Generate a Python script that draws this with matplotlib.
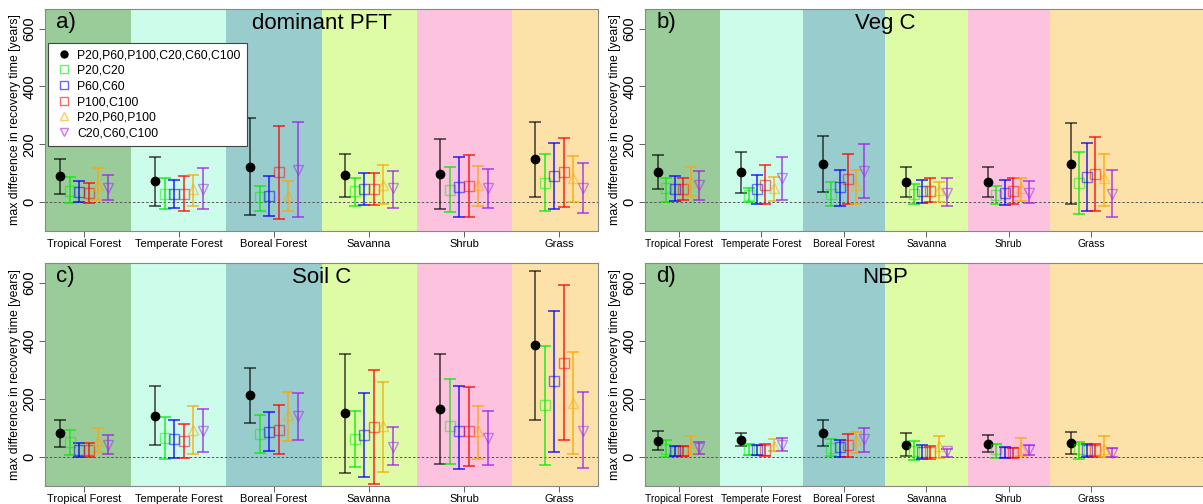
import numpy as np
import matplotlib
matplotlib.use('Agg')
import matplotlib.pyplot as plt
from matplotlib.lines import Line2D

plt.rcParams['font.family'] = ['Liberation Sans', 'DejaVu Sans']

pfts = ['Tropical Forest', 'Temperate Forest', 'Boreal Forest', 'Savanna', 'Shrub', 'Grass']
bandColors = ['#99cc99', '#ccfcea', '#99cdcd', '#defca6', '#fcc2de', '#fce2a8']
seriesLabels = ['P20,P60,P100,C20,C60,C100', 'P20,C20', 'P60,C60', 'P100,C100',
                'P20,P60,P100', 'C20,C60,C100']
seriesColors = ['black', '#00ee00', '#0000ff', '#ff0000', '#ffa500', '#a020f0']
seriesMarkers = ['o', 's', 's', 's', '^', 'v']

# values per panel: [series][pft] -> (point, low, high)
domPFT = [
    [(89, 29, 149), (72, -12, 156), (123, -44, 291), (93, 16, 168), (98, -24, 218), (149, 17, 277)],
    [(40, -3, 88), (29, -24, 82), (16, -30, 57), (37, -13, 85), (43, -36, 123), (67, -31, 165)],
    [(35, 0, 72), (29, -22, 75), (22, -47, 89), (46, -10, 102), (52, -50, 156), (91, -23, 205)],
    [(32, -3, 65), (29, -30, 90), (104, -58, 262), (46, -10, 102), (54, -53, 162), (105, -16, 223)],
    [(60, 8, 118), (45, -12, 95), (20, -30, 72), (60, -8, 127), (60, -13, 125), (82, 2, 160)],
    [(48, 8, 95), (47, -24, 119), (112, -51, 277), (48, -21, 108), (48, -20, 113), (48, -38, 135)],
]
vegC = [
    [(103, 46, 162), (103, 31, 175), (132, 35, 230), (68, 17, 121), (68, 17, 123), (133, -6, 273)],
    [(48, 2, 83), (25, -1, 48), (29, -12, 68), (29, -6, 61), (25, -5, 55), (66, -42, 172)],
    [(47, 5, 89), (44, -6, 92), (51, -15, 110), (37, -2, 77), (33, -10, 77), (87, -32, 203)],
    [(47, 6, 85), (58, -7, 127), (81, -6, 167), (40, -1, 83), (39, -7, 85), (98, -30, 225)],
    [(68, 20, 123), (48, 3, 87), (58, -6, 112), (43, 1, 68), (48, 3, 85), (82, -15, 166)],
    [(60, 8, 108), (85, 8, 156), (106, 14, 202), (33, -15, 83), (33, -3, 74), (29, -52, 112)],
]
soilC = [
    [(81, 34, 127), (142, 40, 243), (213, 118, 307), (150, -55, 353), (165, -24, 354), (385, 128, 642)],
    [(50, 6, 93), (67, -6, 139), (78, 13, 146), (62, -33, 157), (105, -24, 267), (178, -27, 383)],
    [(25, 1, 48), (62, -2, 128), (87, 19, 155), (75, -70, 219), (88, -40, 246), (261, 18, 502)],
    [(25, 1, 48), (55, -2, 112), (93, 9, 178), (103, -93, 299), (90, -32, 242), (325, 58, 591)],
    [(54, 16, 101), (94, 11, 174), (144, 55, 224), (105, -51, 259), (88, -8, 177), (187, 11, 361)],
    [(40, 11, 75), (89, 16, 165), (142, 59, 222), (34, -26, 103), (65, -27, 157), (91, -37, 223)],
]
nbp = [
    [(56, 24, 88), (59, 37, 82), (81, 37, 126), (42, 2, 82), (46, 16, 74), (48, 11, 86)],
    [(29, 1, 58), (25, 8, 45), (31, 3, 63), (22, -9, 55), (27, -3, 46), (27, -6, 53)],
    [(21, 2, 39), (25, 8, 42), (33, 0, 59), (16, -7, 40), (16, -3, 34), (25, 0, 46)],
    [(21, 2, 39), (25, 5, 45), (40, 0, 79), (16, -7, 37), (16, -3, 32), (25, 0, 45)],
    [(32, 11, 72), (37, 21, 61), (57, 14, 85), (37, -3, 73), (31, 2, 64), (29, 0, 73)],
    [(32, 9, 51), (42, 21, 64), (63, 16, 101), (19, 0, 27), (25, 8, 42), (14, 0, 32)],
]

panels = [('a)', 'dominant PFT', domPFT), ('b)', 'Veg C', vegC),
          ('c)', 'Soil C', soilC), ('d)', 'NBP', nbp)]

W, H = 1203., 504.
fig = plt.figure(figsize=(W / 100, H / 100), dpi=100)

# axes boxes in pixels: left, right, top, bottom, xlim right, x label size
boxes = [(45, 598, 9, 231, 6.41, 8.0), (645, 1210, 9, 231, 7.44, 7.4),
         (45, 598, 263, 486, 6.41, 8.0), (645, 1210, 263, 486, 7.44, 7.4)]
offsets = [-0.25, -0.15, -0.05, 0.05, 0.15, 0.25]

for k, (tag, title, data) in enumerate(panels):
    l, r, t, b, xr, xfs = boxes[k]
    ax = fig.add_axes([l / W, 1 - b / H, (r - l) / W, (b - t) / H])
    xl = 0.59
    ax.set_xlim(xl, xr)
    ax.set_ylim(-100, 668)
    for i, c in enumerate(bandColors):
        x0 = max(i + 0.5, xl)
        x1 = i + 1.5 if i < 5 else xr
        ax.axvspan(x0, x1, color=c, lw=0, zorder=0)
    ax.axhline(0, color='#555555', ls=(0, (2.5, 2)), lw=0.7, zorder=1)
    for s in range(6):
        xs = np.arange(1, 7) + offsets[s]
        pts = np.array([d[0] for d in data[s]])
        lo = np.array([d[1] for d in data[s]])
        hi = np.array([d[2] for d in data[s]])
        ax.errorbar(xs, pts, yerr=[pts - lo, hi - pts], fmt='none',
                    ecolor=seriesColors[s], elinewidth=1.1, capsize=4, capthick=1.1,
                    alpha=0.75 if s == 0 else 0.85, zorder=2)
        if s == 0:
            ax.plot(xs, pts, 'o', color='black', ms=6, zorder=3)
        else:
            ax.plot(xs, pts, seriesMarkers[s], mfc='none', mec=seriesColors[s],
                    ms=7.5 if s > 3 else 6.5, mew=1.0, alpha=0.5, zorder=3)
    ax.set_xticks(range(1, 7))
    ax.set_xticklabels(pfts, fontsize=xfs)
    ax.set_yticks([0, 200, 400, 600])
    ax.set_yticklabels(['0', '200', '400', '600'], rotation=90, va='center', fontsize=10.5)
    ax.tick_params(axis='both', length=4, width=0.6, color='#444444', pad=2)
    ax.tick_params(axis='x', pad=1.5)
    ax.set_ylabel('max difference in recovery time [years]', fontsize=8.8, labelpad=1)
    for sp in ax.spines.values():
        sp.set_color('#888888')
        sp.set_linewidth(0.8)
    ax.text(0.02, 0.985, tag, transform=ax.transAxes, fontsize=16, va='top', ha='left')
    ax.text(3.5, 655, title, fontsize=16, va='top', ha='center')

    if k == 0:
        handles = []
        for s in range(6):
            if s == 0:
                handles.append(Line2D([], [], ls='none', marker='o', color='black', ms=5))
            else:
                handles.append(Line2D([], [], ls='none', marker=seriesMarkers[s], mfc='none',
                                      mec=seriesColors[s], ms=6, alpha=0.6))
        leg = ax.legend(handles, seriesLabels, loc='upper left', bbox_to_anchor=(0.005, 0.847),
                        borderaxespad=0, fontsize=8.8, labelspacing=0.3, handletextpad=0.3,
                        handlelength=1.6, fancybox=False, framealpha=1, borderpad=0.5)
        leg.get_frame().set_edgecolor('#444444')
        leg.get_frame().set_linewidth(0.8)

fig.savefig('out.png', dpi=100)
